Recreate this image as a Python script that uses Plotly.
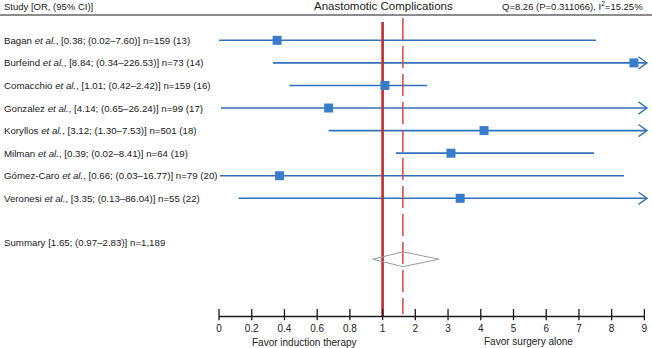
import plotly.graph_objects as go

# ---------------- data ----------------
studies = [
    "Bagan <i>et al.</i>, [0.38; (0.02–7.60)] n=159 (13)",
    "Burfeind <i>et al.</i>, [8.84; (0.34–226.53)] n=73 (14)",
    "Comacchio <i>et al.</i>, [1.01; (0.42–2.42)] n=159 (16)",
    "Gonzalez <i>et al.</i>, [4.14; (0.65–26.24)] n=99 (17)",
    "Koryllos <i>et al.</i>, [3.12; (1.30–7.53)] n=501 (18)",
    "Milman <i>et al.</i>, [0.39; (0.02–8.41)] n=64 (19)",
    "Gómez-Caro <i>et al.</i>, [0.66; (0.03–16.77)] n=79 (20)",
    "Veronesi <i>et al.</i>, [3.35; (0.13–86.04)] n=55 (22)",
]
# values as drawn in the chart
or_drawn = [0.355, 8.68, 1.07, 0.67, 4.10, 3.09, 0.37, 3.37]
ci_low = [0.0, 0.33, 0.43, 0.012, 0.67, 1.41, 0.006, 0.12]
ci_high = [7.52, 9.08, 2.36, 9.08, 9.08, 7.46, 8.38, 9.08]
arrow = [False, True, False, True, True, False, False, True]

summary_label = "Summary [1.65; (0.97–2.83)] n=1,189"
summary_or = 1.62
summary_low = 0.94
summary_high = 2.72

tick_vals = [0, 0.2, 0.4, 0.6, 0.8, 1, 2, 3, 4, 5, 6, 7, 8, 9]
tick_text = ["0", "0.2", "0.4", "0.6", "0.8", "1", "2", "3", "4", "5", "6", "7", "8", "9"]

header_left = "Study [OR, (95% CI)]"
title = "Anastomotic Complications"
header_right = "Q=8.26 (P=0.311066), I<sup>2</sup>=15.25%"
favor_left = "Favor induction therapy"
favor_right = "Favor surgery alone"


# piecewise scale: 0..1 stretched, 1..9 linear
def tx(v):
    return 5 * v if v <= 1 else v + 4


BLUE = "#3270bd"
MARK = "#3a7ccc"
FONT = "Liberation Sans, Arial, sans-serif"
TXT = "#222222"

rows = list(range(len(studies)))
summary_label_row = 8.97
summary_row = 9.7
axis_row = 12.24

fig = go.Figure()

# CI lines
xs, ys = [], []
for i in rows:
    xs += [tx(ci_low[i]), tx(ci_high[i]), None]
    ys += [i, i, None]
fig.add_trace(go.Scatter(x=xs, y=ys, mode="lines", line=dict(color=BLUE, width=1.6),
                         hoverinfo="skip", showlegend=False))

# arrow heads
ax_, ay_ = [], []
dx, dy = 0.26, 0.27
for i in rows:
    if arrow[i]:
        t = tx(ci_high[i])
        ax_ += [t - dx, t, t - dx, None]
        ay_ += [i - dy, i, i + dy, None]
fig.add_trace(go.Scatter(x=ax_, y=ay_, mode="lines", line=dict(color=BLUE, width=1.4),
                         hoverinfo="skip", showlegend=False))

# vertical reference lines
fig.add_trace(go.Scatter(x=[tx(1), tx(1)], y=[-0.81, axis_row], mode="lines",
                         line=dict(color="#c42b30", width=2.6), hoverinfo="skip", showlegend=False))
fig.add_trace(go.Scatter(x=[tx(summary_or), tx(summary_or)], y=[-0.99, axis_row - 0.1], mode="lines",
                         line=dict(color="#e8333b", width=1.4, dash="22px,6px"),
                         hoverinfo="skip", showlegend=False))

# point estimates
fig.add_trace(go.Scatter(x=[tx(v) for v in or_drawn], y=rows, mode="markers",
                         marker=dict(symbol="square", size=9, color=MARK, line=dict(width=0)),
                         hoverinfo="skip", showlegend=False))

# summary diamond
h = 0.33
fig.add_trace(go.Scatter(
    x=[tx(summary_low), tx(summary_or), tx(summary_high), tx(summary_or), tx(summary_low)],
    y=[summary_row, summary_row - h, summary_row, summary_row + h, summary_row],
    mode="lines", line=dict(color="#9a9a9a", width=1), hoverinfo="skip", showlegend=False))

# custom axis
fig.add_trace(go.Scatter(x=[tx(tick_vals[0]), tx(tick_vals[-1])], y=[axis_row, axis_row], mode="lines",
                         line=dict(color="#1a1a1a", width=1.6), hoverinfo="skip", showlegend=False))
kx, ky = [], []
for v in tick_vals:
    kx += [tx(v), tx(v), None]
    ky += [axis_row - 0.33, axis_row + 0.16, None]
fig.add_trace(go.Scatter(x=kx, y=ky, mode="lines", line=dict(color="#1a1a1a", width=1.3),
                         hoverinfo="skip", showlegend=False))
fig.add_trace(go.Scatter(x=[tx(v) for v in tick_vals], y=[axis_row + 0.58] * len(tick_vals),
                         mode="text", text=tick_text, textposition="middle center",
                         textfont=dict(family=FONT, size=10, color=TXT),
                         hoverinfo="skip", showlegend=False))

annotations = []
for i, s in enumerate(studies):
    annotations.append(dict(x=2 / 652, xref="paper", y=i, yref="y", text=s, showarrow=False,
                            xanchor="left", yanchor="middle",
                            font=dict(family=FONT, size=9.7, color=TXT)))
annotations.append(dict(x=2 / 652, xref="paper", y=summary_label_row, yref="y", text=summary_label,
                        showarrow=False, xanchor="left", yanchor="middle",
                        font=dict(family=FONT, size=9.7, color=TXT)))
annotations.append(dict(x=2 / 652, xref="paper", y=-1.5, yref="y", text=header_left, showarrow=False,
                        xanchor="left", yanchor="middle", font=dict(family=FONT, size=9.5, color=TXT)))
annotations.append(dict(x=tx(1.03), xref="x", y=-1.5, yref="y", text=title, showarrow=False,
                        xanchor="center", yanchor="middle", font=dict(family=FONT, size=11.5, color=TXT)))
annotations.append(dict(x=645 / 652, xref="paper", y=-1.5, yref="y", text=header_right, showarrow=False,
                        xanchor="right", yanchor="middle", font=dict(family=FONT, size=9.5, color=TXT)))
annotations.append(dict(x=tx(0.52), xref="x", y=axis_row + 1.15, yref="y", text=favor_left,
                        showarrow=False, xanchor="center", yanchor="middle",
                        font=dict(family=FONT, size=10, color=TXT)))
annotations.append(dict(x=tx(5.47), xref="x", y=axis_row + 1.12, yref="y", text=favor_right,
                        showarrow=False, xanchor="center", yanchor="middle",
                        font=dict(family=FONT, size=10, color=TXT)))

fig.update_layout(
    width=652, height=348,
    margin=dict(l=0, r=0, t=0, b=0),
    paper_bgcolor="white", plot_bgcolor="white",
    xaxis=dict(range=[-6.693, 13.233], visible=False, fixedrange=True),
    yaxis=dict(range=[13.633, -1.786], visible=False, fixedrange=True),
    annotations=annotations,
    shapes=[dict(type="line", xref="paper", yref="y", x0=0, x1=1, y0=-1.12, y1=-1.12,
                 line=dict(color="#8c8c8c", width=2))],
    showlegend=False,
)

fig.write_html("out.html", config={"displayModeBar": False},
               post_script="document.body.style.margin='0';document.body.style.overflow='hidden';")
